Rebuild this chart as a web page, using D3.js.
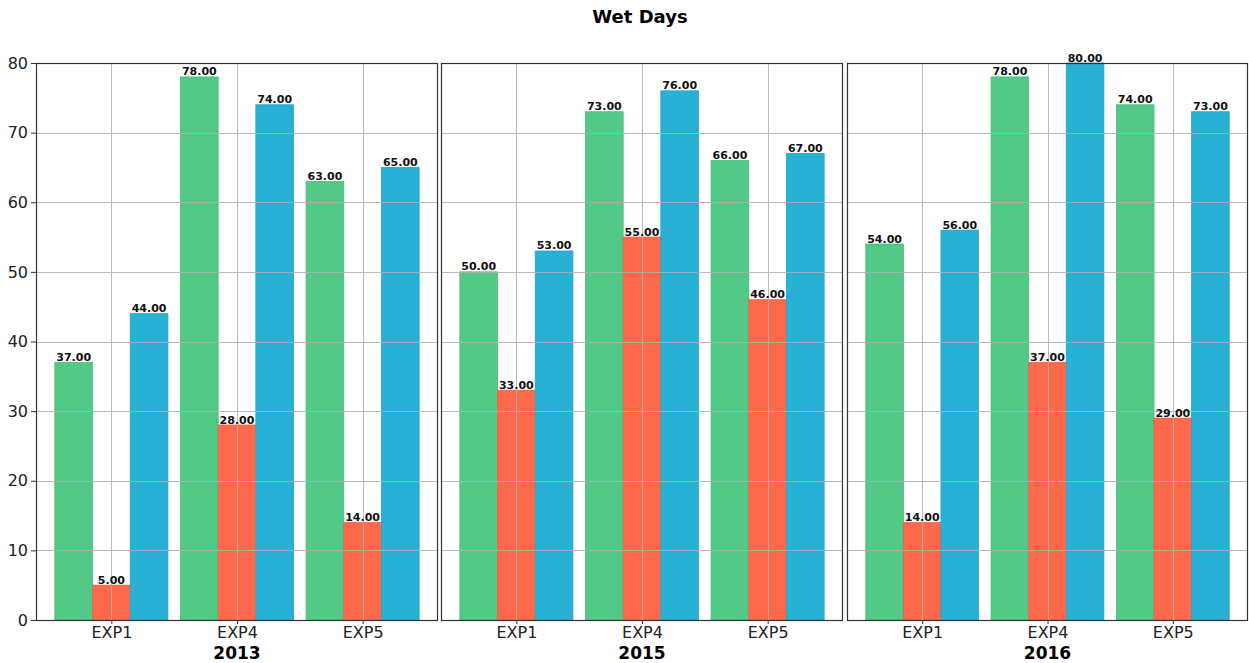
<!DOCTYPE html>
<html>
<head>
<meta charset="utf-8">
<script src="https://cdn.jsdelivr.net/npm/d3@7"></script>
<style>
  html, body { margin: 0; padding: 0; background: #fff; }
  svg { display: block; font-family: "DejaVu Sans", sans-serif; }
</style>
</head>
<body>
<svg id="chart" width="1249" height="663"></svg>
<script>
// Wet days per experiment, one panel per year
const years = ["2013", "2015", "2016"];
const experiments = ["EXP1", "EXP4", "EXP5"];
const seriesA = [[37, 78, 63], [50, 73, 66], [54, 78, 74]]; // green
const seriesB = [[5, 28, 14], [33, 55, 46], [14, 37, 29]];  // red
const seriesC = [[44, 74, 65], [53, 76, 67], [56, 80, 73]]; // blue
const yTicks = [0, 10, 20, 30, 40, 50, 60, 70, 80];

const colors = ["#52c986", "#ff694b", "#29b0d5"];
const edges = ["#49bb7b", "#f05e42", "#22a3c7"];

const svg = d3.select("#chart");

svg.append("text")
  .attr("x", 640).attr("y", 23)
  .attr("text-anchor", "middle")
  .style("font-size", "18px").style("font-weight", "bold")
  .text("Wet Days");

const panels = [
  { x0: 36, x1: 438 },
  { x0: 441, x1: 843 },
  { x0: 847, x1: 1248 }
];
const plotTop = 63, plotBottom = 620;

const y = d3.scaleLinear().domain([0, 80]).range([plotBottom, plotTop]);
const barW = 0.3;

panels.forEach((p, pi) => {
  const x = d3.scaleLinear().domain([-0.6, 2.6]).range([p.x0, p.x1]);
  const g = svg.append("g");

  // bars
  const series = [seriesA[pi], seriesB[pi], seriesC[pi]];
  series.forEach((vals, si) => {
    const off = (si - 1) * barW;
    g.selectAll(null)
      .data(vals)
      .enter().append("rect")
      .attr("x", (d, i) => x(i + off - barW / 2))
      .attr("width", x(barW) - x(0))
      .attr("y", d => y(d))
      .attr("height", d => y(0) - y(d))
      .attr("fill", colors[si])
      .attr("stroke", edges[si])
      .attr("stroke-width", 0.8);
  });

  // grid on top of bars
  const grid = g.append("g").attr("stroke", "#b0b0b0").attr("stroke-width", 1).attr("opacity", 0.85);
  yTicks.forEach(t => {
    if (t === 0 || t === 80) return;
    grid.append("line")
      .attr("x1", p.x0).attr("x2", p.x1)
      .attr("y1", Math.round(y(t)) + 0.5).attr("y2", Math.round(y(t)) + 0.5);
  });
  experiments.forEach((e, i) => {
    grid.append("line")
      .attr("x1", Math.round(x(i)) + 0.5).attr("x2", Math.round(x(i)) + 0.5)
      .attr("y1", plotTop).attr("y2", plotBottom);
  });

  // value labels
  series.forEach((vals, si) => {
    const off = (si - 1) * barW;
    g.selectAll(null)
      .data(vals)
      .enter().append("text")
      .attr("x", (d, i) => x(i + off))
      .attr("y", d => y(d) - 1.5)
      .attr("text-anchor", "middle")
      .style("font-size", "11px").style("font-weight", "bold")
      .attr("fill", "#111")
      .text(d => d3.format(".2f")(d));
  });

  // frame
  g.append("rect")
    .attr("x", p.x0 + 0.5).attr("y", plotTop + 0.5)
    .attr("width", p.x1 - p.x0 - 1).attr("height", plotBottom - plotTop)
    .attr("fill", "none").attr("stroke", "#333").attr("stroke-width", 1.2);

  // x axis
  const xAxis = d3.axisBottom(x).tickValues([0, 1, 2])
    .tickFormat(i => experiments[i]).tickSize(4).tickPadding(3);
  const ax = g.append("g").attr("transform", `translate(0,${plotBottom})`).call(xAxis);
  ax.select(".domain").remove();
  ax.selectAll(".tick line").attr("stroke", "#333");
  ax.selectAll(".tick text").style("font-size", "16px").attr("fill", "#222")
    .style("font-family", "'DejaVu Sans', sans-serif");

  g.append("text")
    .attr("x", (p.x0 + p.x1) / 2).attr("y", 659)
    .attr("text-anchor", "middle")
    .style("font-size", "17px").style("font-weight", "bold")
    .text(years[pi]);

  if (pi === 0) {
    const yAxis = d3.axisLeft(y).tickValues(yTicks).tickSize(5).tickPadding(3);
    const ay = g.append("g").attr("transform", `translate(${p.x0},0)`).call(yAxis);
    ay.select(".domain").remove();
    ay.selectAll(".tick line").attr("stroke", "#333");
    ay.selectAll(".tick text").style("font-size", "16px").attr("fill", "#222")
      .style("font-family", "'DejaVu Sans', sans-serif");
  }
});
</script>
</body>
</html>
